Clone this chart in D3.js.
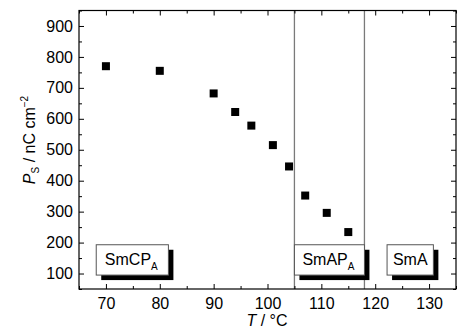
<!DOCTYPE html>
<html>
<head>
<meta charset="utf-8">
<script src="https://cdn.jsdelivr.net/npm/d3@7"></script>
<style>
  body { margin: 0; background: #fff; }
  svg text { font-family: "Liberation Sans", Arial, sans-serif; }
</style>
</head>
<body>
<div id="chart"></div>
<script>
// measured values
const temps = [70, 80, 90, 94, 97, 101, 104, 107, 111, 115];
const polarization = [770, 755, 682, 622, 578, 515, 446, 352, 296, 234];

const xTicks = [70, 80, 90, 100, 110, 120, 130];
const yTicks = [100, 200, 300, 400, 500, 600, 700, 800, 900];

// phase boundaries (°C)
const phaseBounds = [105, 118];

// phase label boxes: name, subscript, T range, P range
const phaseNames = ["SmCP", "SmAP", "SmA"];
const phaseSubs = ["A", "A", ""];
const phaseTFrom = [68.2, 105, 122.2];
const phaseTTo = [81.6, 118, 130.8];
const phasePLow = 95;
const phasePHigh = 193;

const W = 457, H = 330;
const margin = { top: 10.5, right: 1, bottom: 41, left: 79 };

const svg = d3.select("#chart")
    .append("svg")
    .attr("width", W)
    .attr("height", H);

const x = d3.scaleLinear().domain([65, 135]).range([margin.left, W - margin.right]);
const y = d3.scaleLinear().domain([50, 950]).range([H - margin.bottom, margin.top]);

// phase boundary lines
svg.selectAll(".bound")
    .data(phaseBounds)
    .enter()
    .append("line")
    .attr("x1", d => x(d))
    .attr("x2", d => x(d))
    .attr("y1", y(950))
    .attr("y2", y(50))
    .attr("stroke", "#7a7a7a")
    .attr("stroke-width", 1.3);

// phase label boxes with black drop shadow
const boxes = svg.selectAll(".phase")
    .data(phaseNames)
    .enter()
    .append("g")
    .attr("class", "phase");

boxes.append("rect")
    .attr("x", (d, i) => x(phaseTFrom[i]) + 5)
    .attr("y", y(phasePHigh) + 5)
    .attr("width", (d, i) => x(phaseTTo[i]) - x(phaseTFrom[i]))
    .attr("height", y(phasePLow) - y(phasePHigh))
    .attr("fill", "#000");

boxes.append("rect")
    .attr("x", (d, i) => x(phaseTFrom[i]))
    .attr("y", y(phasePHigh))
    .attr("width", (d, i) => x(phaseTTo[i]) - x(phaseTFrom[i]))
    .attr("height", y(phasePLow) - y(phasePHigh))
    .attr("fill", "#fff")
    .attr("stroke", "#555")
    .attr("stroke-width", 1);

const labels = boxes.append("text")
    .attr("x", (d, i) => (x(phaseTFrom[i]) + x(phaseTTo[i])) / 2 - (phaseSubs[i] ? 1 : 0))
    .attr("y", y(phasePHigh) + 20.5)
    .attr("text-anchor", "middle")
    .style("font-size", "16px");
labels.append("tspan").text(d => d);
labels.append("tspan")
    .attr("dy", 5)
    .style("font-size", "10px")
    .text((d, i) => phaseSubs[i]);

// data points
svg.selectAll(".pt")
    .data(polarization)
    .enter()
    .append("rect")
    .attr("x", (d, i) => x(temps[i]) - 4)
    .attr("y", d => y(d) - 4)
    .attr("width", 8)
    .attr("height", 8)
    .attr("fill", "#000");

// axes (ticks pointing inward on all four sides)
const xMinor = d3.range(65, 136, 5).filter(v => !xTicks.includes(v));
const yMinor = d3.range(50, 951, 50).filter(v => !yTicks.includes(v));

function styleAxis(g) {
    g.select(".domain").remove();
    g.selectAll("line").attr("stroke", "#000");
    g.selectAll("text").style("font-size", "16px").attr("fill", "#000");
}

svg.append("g")
    .attr("transform", `translate(0,${y(50)})`)
    .call(d3.axisBottom(x).tickValues(xTicks).tickSize(-5).tickPadding(9))
    .call(styleAxis);
svg.append("g")
    .attr("transform", `translate(0,${y(50)})`)
    .call(d3.axisBottom(x).tickValues(xMinor).tickSize(-3).tickFormat(""))
    .call(styleAxis);
svg.append("g")
    .attr("transform", `translate(0,${y(950)})`)
    .call(d3.axisTop(x).tickValues(xTicks).tickSize(-5).tickFormat(""))
    .call(styleAxis);
svg.append("g")
    .attr("transform", `translate(0,${y(950)})`)
    .call(d3.axisTop(x).tickValues(xMinor).tickSize(-3).tickFormat(""))
    .call(styleAxis);

svg.append("g")
    .attr("transform", `translate(${x(65)},0)`)
    .call(d3.axisLeft(y).tickValues(yTicks).tickSize(-5).tickPadding(6))
    .call(styleAxis);
svg.append("g")
    .attr("transform", `translate(${x(65)},0)`)
    .call(d3.axisLeft(y).tickValues(yMinor).tickSize(-3).tickFormat(""))
    .call(styleAxis);
svg.append("g")
    .attr("transform", `translate(${x(135)},0)`)
    .call(d3.axisRight(y).tickValues(yTicks).tickSize(-5).tickFormat(""))
    .call(styleAxis);
svg.append("g")
    .attr("transform", `translate(${x(135)},0)`)
    .call(d3.axisRight(y).tickValues(yMinor).tickSize(-3).tickFormat(""))
    .call(styleAxis);

// frame
svg.append("rect")
    .attr("x", x(65))
    .attr("y", y(950))
    .attr("width", x(135) - x(65))
    .attr("height", y(50) - y(950))
    .attr("fill", "none")
    .attr("stroke", "#000")
    .attr("stroke-width", 1.2);

// x axis title
const xTitle = svg.append("text")
    .attr("x", 267)
    .attr("y", 326)
    .attr("text-anchor", "middle")
    .style("font-size", "16px");
xTitle.append("tspan").style("font-style", "italic").text("T");
xTitle.append("tspan").text(" / °C");

// y axis title
const yTitle = svg.append("text")
    .attr("transform", `translate(35,140) rotate(-90)`)
    .attr("text-anchor", "middle")
    .style("font-size", "16px");
yTitle.append("tspan").style("font-style", "italic").text("P");
yTitle.append("tspan").attr("dy", 4).style("font-size", "10px").text("S");
yTitle.append("tspan").attr("dy", -4).text(" / nC cm");
yTitle.append("tspan").attr("dy", -7).style("font-size", "10px").text("−2");
</script>
</body>
</html>
